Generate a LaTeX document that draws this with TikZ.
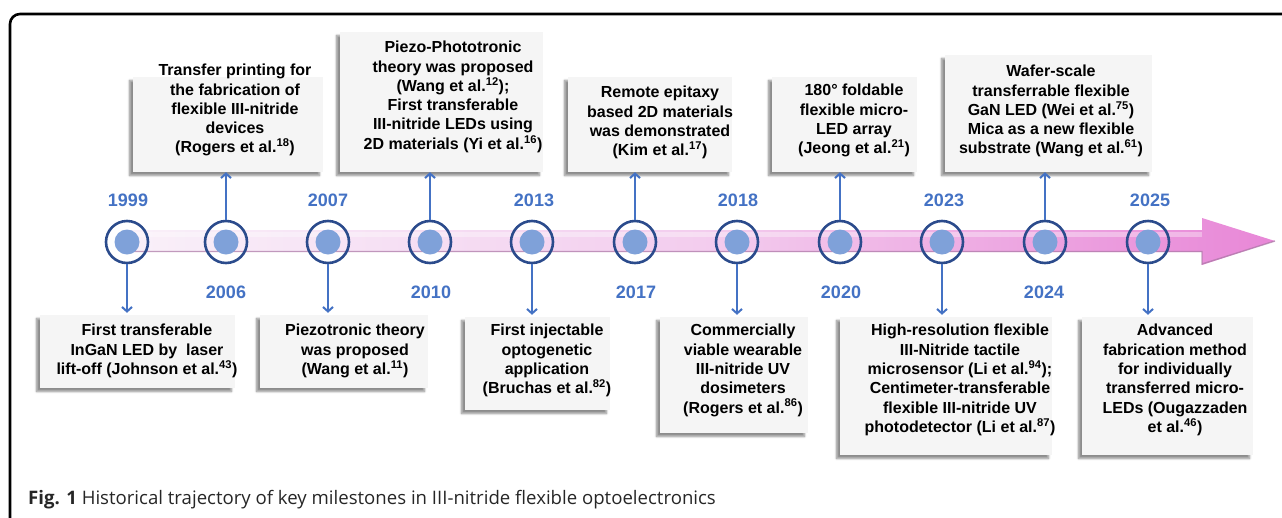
\documentclass[tikz,border=0pt]{standalone}
\usepackage{fontspec}
\setmainfont{Liberation Sans}
\newfontfamily\capfont{Open Sans}
\usetikzlibrary{arrows.meta,shadows.blur}
\definecolor{ringblue}{HTML}{2B4B8C}
\definecolor{dotblue}{HTML}{7FA1D9}
\definecolor{yearblue}{HTML}{4472C4}
\definecolor{boxfill}{HTML}{F5F5F5}
\definecolor{barleft}{HTML}{F9F0F9}
\definecolor{barmid}{HTML}{F3CDEE}
\definecolor{barright}{HTML}{E887D7}
\definecolor{capgray}{HTML}{262626}
\tikzset{
  ring/.style={circle,draw=ringblue,line width=2.6pt,minimum size=42pt,inner sep=0pt},
  mbox/.style={rectangle,fill=boxfill,draw=none,inner sep=0pt,
    blur shadow={shadow xshift=-3.5pt,shadow yshift=-3.5pt,shadow blur steps=6,shadow opacity=45}},
  txt/.style={anchor=north,align=center,inner sep=0pt,font=\bfseries\fontsize{16}{19.3}\selectfont},
  year/.style={font=\bfseries\fontsize{18}{20}\selectfont,text=yearblue,inner sep=0pt},
  conn/.style={draw=yearblue,line width=2pt,-{Straight Barb[length=4.5pt,width=10pt,line width=2pt]}},
}
\begin{document}
\begin{tikzpicture}[x=1pt,y=-1pt]
\useasboundingbox (0,0) rectangle (1282,517);
% frame
\draw[line width=2.6pt,black] (10,520) -- (10,24) arc[start angle=180,end angle=270,radius=10] -- (1285,14);
% bar arrow
\path[left color=barleft,right color=barright,middle color=barmid]
  (127,230) -- (1202,230) -- (1202,218) -- (1275,241) -- (1202,265) -- (1202,252) -- (127,252) -- cycle;
\fill[white,opacity=0.35] (127,231.5) rectangle (1202,237);
\draw[line width=1.4pt,draw={rgb,255:red,170;green,120;blue,165},opacity=0.7] (127,251.5) -- (1202,251.5) -- (1202,264) -- (1275,241);
% boxes top
\node[mbox,minimum width=190pt,minimum height=95pt] (b2) at (228,124.5) {};
\node[mbox,minimum width=203pt,minimum height=140pt] (b4) at (441.5,102) {};
\node[mbox,minimum width=164pt,minimum height=95pt] (b6) at (650,124.5) {};
\node[mbox,minimum width=145pt,minimum height=95pt] (b8) at (844.5,124.5) {};
\node[mbox,minimum width=207pt,minimum height=117pt] (b10) at (1048.5,113.5) {};
% boxes bottom
\node[mbox,minimum width=195pt,minimum height=73pt] (b1) at (137.5,351.5) {};
\node[mbox,minimum width=168pt,minimum height=73pt] (b3) at (344,351.5) {};
\node[mbox,minimum width=145pt,minimum height=93pt] (b5) at (537.5,363.5) {};
\node[mbox,minimum width=148pt,minimum height=116pt] (b7) at (734,375) {};
\node[mbox,minimum width=212pt,minimum height=138pt] (b9) at (946,386) {};
\node[mbox,minimum width=171pt,minimum height=138pt] (b11) at (1167.5,386) {};
% texts
\node[txt] (t2) at (235,64) {Transfer printing for\\the fabrication of\\flexible III-nitride\\devices\\(Rogers et al.\textsuperscript{18})};
\node[txt] (t4) at (453,41) {Piezo-Phototronic\\theory was proposed\\(Wang et al.\textsuperscript{12});\\First transferable\\III-nitride LEDs using\\2D materials (Yi et al.\textsuperscript{16})};
\node[txt] (t6) at (660,86) {Remote epitaxy\\based 2D materials\\was demonstrated\\(Kim et al.\textsuperscript{17})};
\node[txt] (t8) at (854,84) {180° foldable\\flexible micro-\\LED array\\(Jeong et al.\textsuperscript{21})};
\node[txt] (t10) at (1051,65) {Wafer-scale\\transferrable flexible\\GaN LED (Wei et al.\textsuperscript{75})\\Mica as a new flexible\\substrate (Wang et al.\textsuperscript{61})};
\node[txt] (t1) at (147,324) {First transferable\\InGaN LED by\ \ laser\\lift-off (Johnson et al.\textsuperscript{43})};
\node[txt] (t3) at (355,324) {Piezotronic theory\\was proposed\\(Wang et al.\textsuperscript{11})};
\node[txt] (t5) at (547,324) {First injectable\\optogenetic\\application\\(Bruchas et al.\textsuperscript{82})};
\node[txt] (t7) at (743,324) {Commercially\\viable wearable\\III-nitride UV\\dosimeters\\(Rogers et al.\textsuperscript{86})};
\node[txt] (t9) at (960,324) {High-resolution flexible\\III-Nitride tactile\\microsensor (Li et al.\textsuperscript{94});\\Centimeter-transferable\\flexible III-nitride UV\\photodetector (Li et al.\textsuperscript{87})};
\node[txt] (t11) at (1175,324) {Advanced\\fabrication method\\for individually\\transferred micro-\\LEDs (Ougazzaden\\et al.\textsuperscript{46})};
% circles
\foreach \i/\x in {1/127,2/226,3/328,4/430,5/532,6/635,7/737,8/840,9/942,10/1045,11/1148}{
  \fill[dotblue] (\x,242) circle (12.5);
  \node[ring] (c\i) at (\x,242) {};
}
% years
\node[year] (y1) at (128,200) {1999};
\node[year] (y2) at (226,292) {2006};
\node[year] (y3) at (328,200) {2007};
\node[year] (y4) at (431,292) {2010};
\node[year] (y5) at (534,200) {2013};
\node[year] (y6) at (636,292) {2017};
\node[year] (y7) at (738,200) {2018};
\node[year] (y8) at (841,292) {2020};
\node[year] (y9) at (944,200) {2023};
\node[year] (y10) at (1044,292) {2024};
\node[year] (y11) at (1150,200) {2025};
% connectors
\foreach \i in {2,4,6,8,10}{
  \draw[conn] (c\i.north) -- (c\i.north |- b\i.south);
}
\foreach \i in {1,3,5,7,9,11}{
  \draw[conn,shorten >=2pt] (c\i.south) -- (c\i.south |- b\i.north);
}
% caption
\node[anchor=base west,inner sep=0pt,text=capgray,font=\capfont\fontsize{18.6}{21}\selectfont] (cap) at (28,504) {\textbf{Fig. 1} Historical trajectory of key milestones in III-nitride flexible optoelectronics};
\end{tikzpicture}
\end{document}
